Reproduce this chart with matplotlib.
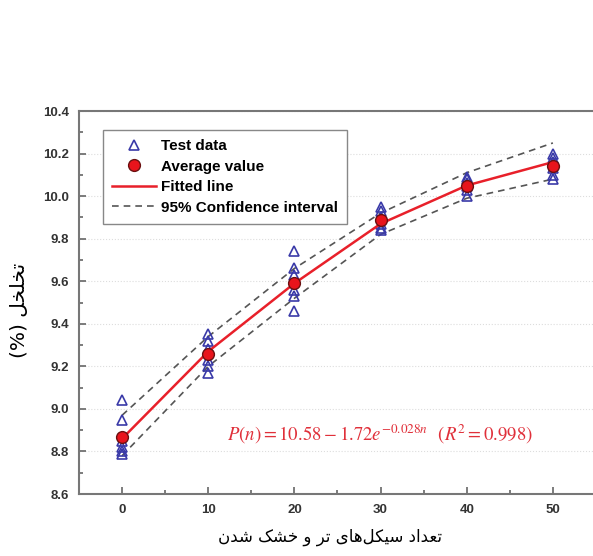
import numpy as np
import matplotlib
matplotlib.use('Agg')
import matplotlib.pyplot as plt
from matplotlib.ticker import MultipleLocator

# Data
cycles = [0, 10, 20, 30, 40, 50]
test_data = [
    [9.04, 8.95, 8.85, 8.82, 8.80, 8.79],
    [9.35, 9.32, 9.28, 9.23, 9.20, 9.17],
    [9.74, 9.66, 9.63, 9.56, 9.53, 9.46],
    [9.95, 9.93, 9.90, 9.87, 9.85, 9.84],
    [10.09, 10.08, 10.06, 10.05, 10.03, 10.00],
    [10.20, 10.18, 10.16, 10.13, 10.10, 10.08],
]
average = [8.87, 9.26, 9.59, 9.89, 10.05, 10.14]
fitted = [8.86, 9.27, 9.59, 9.87, 10.05, 10.16]
upper_ci = [8.97, 9.34, 9.66, 9.92, 10.11, 10.25]
lower_ci = [8.78, 9.20, 9.52, 9.82, 9.99, 10.08]

xlabel_fa = 'تعداد سیکل‌های تر و خشک شدن'
ylabel_fa = 'تخلخل'

# minimal Arabic/Persian shaping (matplotlib has no text shaping)
# letter: (isolated, final, initial, medial)
FORMS = {
    'ا': ('\uFE8D', '\uFE8E', None, None),
    'د': ('\uFEA9', '\uFEAA', None, None),
    'ر': ('\uFEAD', '\uFEAE', None, None),
    'و': ('\uFEED', '\uFEEE', None, None),
    'ت': ('\uFE95', '\uFE96', '\uFE97', '\uFE98'),
    'خ': ('\uFEA5', '\uFEA6', '\uFEA7', '\uFEA8'),
    'ل': ('\uFEDD', '\uFEDE', '\uFEDF', '\uFEE0'),
    'ع': ('\uFEC9', '\uFECA', '\uFECB', '\uFECC'),
    'س': ('\uFEB1', '\uFEB2', '\uFEB3', '\uFEB4'),
    'ش': ('\uFEB5', '\uFEB6', '\uFEB7', '\uFEB8'),
    'ه': ('\uFEE9', '\uFEEA', '\uFEEB', '\uFEEC'),
    'ن': ('\uFEE5', '\uFEE6', '\uFEE7', '\uFEE8'),
    'ی': ('\uFBFC', '\uFBFD', '\uFBFE', '\uFBFF'),
    'ک': ('\uFB8E', '\uFB8F', '\uFB90', '\uFB91'),
}


def shape(text):
    out = []
    for i, ch in enumerate(text):
        if ch not in FORMS:
            if ch != '\u200c':
                out.append(ch)
            continue
        prev = text[i - 1] if i > 0 else ''
        nxt = text[i + 1] if i + 1 < len(text) else ''
        joins_prev = prev in FORMS and FORMS[prev][2] is not None
        joins_next = nxt in FORMS and FORMS[ch][2] is not None
        iso, fin, ini, med = FORMS[ch]
        if joins_prev and joins_next:
            out.append(med)
        elif joins_prev:
            out.append(fin)
        elif joins_next:
            out.append(ini)
        else:
            out.append(iso)
    return ''.join(reversed(out))


plt.rcParams['font.family'] = ['Liberation Sans', 'DejaVu Sans']
plt.rcParams['mathtext.fontset'] = 'stix'

fig = plt.figure(figsize=(5.93, 5.56), dpi=100)
ax = fig.add_axes([0.1332, 0.1115, 0.8718, 0.6888])

# confidence interval
ax.plot(cycles, upper_ci, color='#555555', lw=1.2, ls=(0, (4, 3)),
        label='95% Confidence interval', zorder=2)
ax.plot(cycles, lower_ci, color='#555555', lw=1.2, ls=(0, (4, 3)), zorder=2)

# test data
xs = np.repeat(cycles, [len(v) for v in test_data])
ys = np.concatenate(test_data)
ax.plot(xs, ys, ls='none', marker='^', ms=6.5, mfc='none', mec='#3a3aa8',
        mew=1.2, label='Test data', zorder=3)

# fitted line
ax.plot(cycles, fitted, color='#e8202a', lw=1.8, label='Fitted line', zorder=4)

# averages
ax.plot(cycles, average, ls='none', marker='o', ms=8.5, mfc='#e8141c',
        mec='#6a1010', mew=1.0, label='Average value', zorder=5)

ax.set_xlim(-5, 55)
ax.set_ylim(8.6, 10.4)
ax.xaxis.set_major_locator(MultipleLocator(10))
ax.xaxis.set_minor_locator(MultipleLocator(5))
ax.yaxis.set_major_locator(MultipleLocator(0.2))
ax.yaxis.set_minor_locator(MultipleLocator(0.1))
ax.yaxis.set_major_formatter(matplotlib.ticker.FormatStrFormatter('%.1f'))
ax.tick_params(which='both', direction='in', color='#666666', width=1.2)
ax.tick_params(which='major', length=5, labelsize=9.5, labelcolor='#333333', pad=7)
ax.tick_params(which='minor', length=3)
ax.tick_params(top=False, right=False)
for lbl in ax.get_xticklabels() + ax.get_yticklabels():
    lbl.set_fontweight('bold')
for s in ax.spines.values():
    s.set_color('#777777')
    s.set_linewidth(1.5)
ax.grid(axis='y', color='#dddddd', ls=':', lw=0.8)

handles, labels = ax.get_legend_handles_labels()
order = ['Test data', 'Average value', 'Fitted line', '95% Confidence interval']
h = [handles[labels.index(o)] for o in order]
leg = ax.legend(h, order, loc='upper left', bbox_to_anchor=(0.046, 0.95),
                fancybox=False, edgecolor='#888888', framealpha=1,
                prop={'weight': 'bold', 'size': 11}, handlelength=2.9,
                borderpad=0.6, labelspacing=0.42, handletextpad=0.3,
                borderaxespad=0)
leg.get_frame().set_linewidth(1.0)

ax.text(29.9, 8.88, r'$P(n)=10.58-1.72e^{-0.028n}$  $(R^2=0.998)$',
        color='#e0303a', fontsize=13.5, ha='center', va='center')

fig.text(0.556, 0.034, shape(xlabel_fa), ha='center', va='center',
         fontsize=12, family=['DejaVu Sans'])
fig.text(0.033, 0.442, '(%) ' + shape(ylabel_fa), ha='center', va='center',
         rotation=90, fontsize=14.5, family=['DejaVu Sans'])

fig.savefig('out.png', dpi=100)
